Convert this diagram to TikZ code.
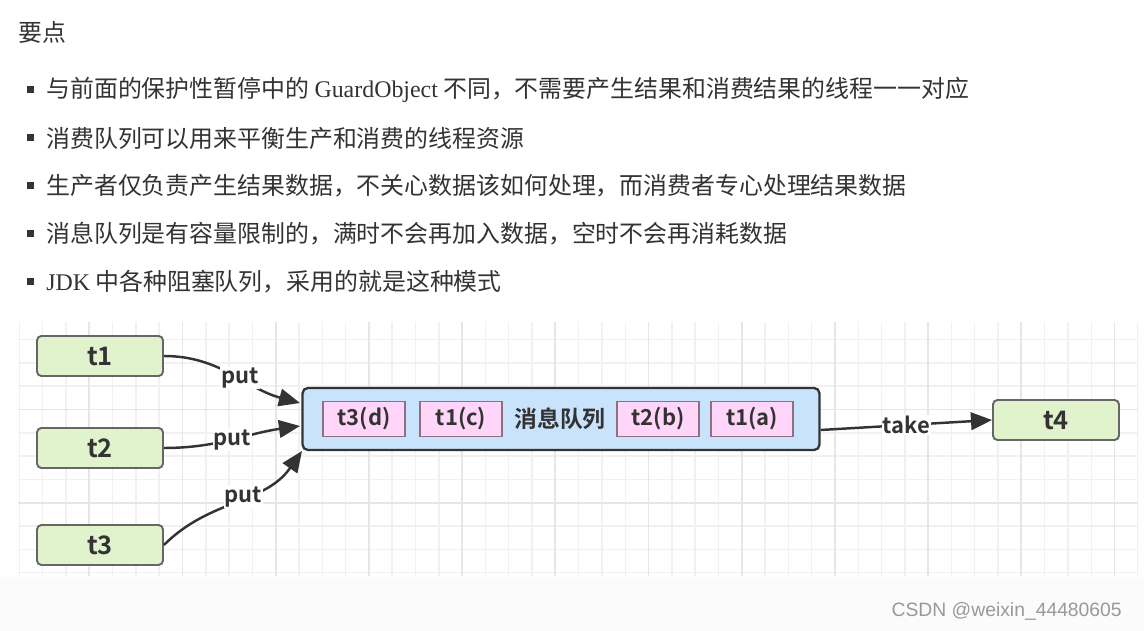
\documentclass[tikz,border=0pt]{standalone}
\usepackage{fontspec}
\setmainfont{Liberation Serif}
\newfontfamily\cjk{Noto Sans CJK SC}
\newfontfamily\cjkb{Noto Sans CJK SC Bold}
\newfontfamily\wmfont{Liberation Sans}
\usetikzlibrary{arrows.meta}
\definecolor{txtgray}{HTML}{333333}
\definecolor{thrgreen}{HTML}{E0F3CC}
\definecolor{queueblue}{HTML}{C9E3FD}
\definecolor{msgpink}{HTML}{FFD6F9}
\definecolor{gridminor}{HTML}{F1F1F1}
\definecolor{gridmajor}{HTML}{E6E6E6}
\tikzset{
	thread/.style={draw=black!60, fill=thrgreen, line width=1.1pt, rounded corners=2.5pt,
		minimum width=2.52cm, minimum height=0.8cm, font=\cjkb\fontsize{14.5}{16}\selectfont, text=txtgray},
	msg/.style={draw=black!55!magenta!40!gray, fill=msgpink, line width=0.8pt,
		minimum width=1.64cm, minimum height=0.62cm, font=\cjkb\fontsize{12.5}{14}\selectfont, text=txtgray},
	flow/.style={draw=txtgray, line width=1.4pt, -{Triangle[length=12pt,width=10pt]}},
	lbl/.style={fill=white, inner sep=0.5pt, font=\cjkb\fontsize{12.5}{14}\selectfont, text=txtgray},
	point/.style={anchor=west, text=txtgray, font=\cjk\fontsize{13.6}{16}\selectfont, inner sep=0pt},
}
\begin{document}
\begin{tikzpicture}[x=0.02cm,y=-0.02cm]
	\useasboundingbox[fill=white] (0,0) rectangle (1144,631);
	% heading and bullet points
	\node[point] (title) at (18,32) {要点};
	\foreach \yy in {90,138,186,234,282}
		\fill[txtgray] (27,\yy-3.5) rectangle +(7,7);
	\node[point] (p1) at (46,90) {与前面的保护性暂停中的 {\rmfamily GuardObject} 不同，不需要产生结果和消费结果的线程一一对应};
	\node[point] (p2) at (46,138) {消费队列可以用来平衡生产和消费的线程资源};
	\node[point] (p3) at (46,186) {生产者仅负责产生结果数据，不关心数据该如何处理，而消费者专心处理结果数据};
	\node[point] (p4) at (46,234) {消息队列是有容量限制的，满时不会再加入数据，空时不会再消耗数据};
	\node[point] (p5) at (46,282) {{\rmfamily JDK} 中各种阻塞队列，采用的就是这种模式};
	
	% grid panel
	\fill[black!1.5] (0,577) rectangle (1144,631);
	\begin{scope}
		\clip (18,322) rectangle (1138,576);
		\fill[white] (18,322) rectangle (1138,576);
		\foreach \k in {0,...,48}
			\draw[gridminor, line width=0.8pt] ({19.4+23.3*\k},322) -- ++(0,254);
		\foreach \k in {0,...,10}
			\draw[gridminor, line width=0.8pt] (18,{339.6+23.3*\k}) -- ++(1120,0);
		\foreach \k in {3,7,...,47}
			\draw[gridmajor, line width=1pt] ({19.4+23.3*\k},322) -- ++(0,254);
		\foreach \k in {3,7}
			\draw[gridmajor, line width=1pt] (18,{339.6+23.3*\k}) -- ++(1120,0);
	\end{scope}
	
	% threads and queue
	\node[thread] (t1) at (100,356) {t1};
	\node[thread] (t2) at (100,448) {t2};
	\node[thread] (t3) at (100,545) {t3};
	\node[thread] (t4) at (1056,420) {t4};
	\node[draw=txtgray, fill=queueblue, line width=1.3pt, rounded corners=3pt,
		minimum width=10.34cm, minimum height=1.24cm] (queue) at (561,419) {};
	\node[msg] (m4) at (364,419) {t3(d)};
	\node[msg] (m3) at (461,419) {t1(c)};
	\node[font=\cjkb\fontsize{13}{15}\selectfont, text=txtgray] (qname) at (560,419) {消息队列};
	\node[msg] (m2) at (658,419) {t2(b)};
	\node[msg] (m1) at (752,419) {t1(a)};
	
	\coordinate (in1) at (300,403);
	\coordinate (in2) at (300,426);
	\coordinate (in3) at (302,451);
	\draw[flow] (t1.east) to[out=0,in=165] node[lbl, pos=0.56] {put} (in1);
	\draw[flow] (t2.east) to[out=0,in=188] node[lbl, pos=0.5] {put} (in2);
	\draw[flow] (t3.east) to[out=45,in=235] node[lbl, pos=0.55] {put} (in3);
	\draw[flow] (queue.east |- 0,430) -- node[lbl, pos=0.5] {take} (t4.west);
	
	\node[text=black!40, font=\wmfont\fontsize{11}{13}\selectfont, anchor=east] (mark) at (1128,611) {CSDN @weixin\_44480605};
\end{tikzpicture}
\end{document}
